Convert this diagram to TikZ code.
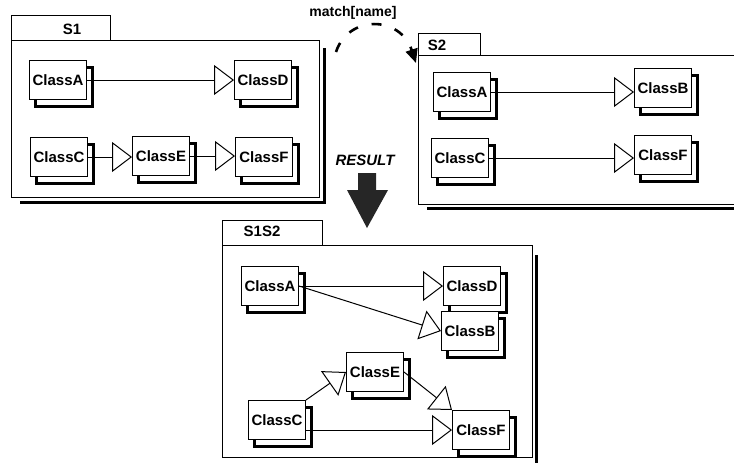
\documentclass[tikz,border=0pt]{standalone}
\usepackage{fontspec}
\setmainfont{Liberation Sans}
\usepackage{tikz}
\usetikzlibrary{calc,arrows.meta,shadows}
\usepackage{xcolor}

\tikzset{
    cls/.style={draw, fill=white, line width=0.5pt, minimum width=28.5pt, minimum height=19.5pt, inner sep=1pt,
        font=\fontsize{7.5}{8}\selectfont\bfseries,
        general shadow={shadow xshift=3pt, shadow yshift=-3.5pt, draw=black, fill=white, line width=1.2pt}},
    gen/.style={line width=0.5pt, -{Triangle[open, length=10pt, width=15pt]}},
    pkg/.style={draw, fill=white, line width=0.5pt},
    pkgshadow/.style={line width=1.5pt},
    tab/.style={font=\fontsize{7.5}{8}\selectfont\bfseries},
}

\begin{document}
\begin{tikzpicture}[x=0.5pt, y=-0.5pt]
    \clip (0,0) rectangle (734,462);

    % S1
    \draw[pkgshadow] (324,48) -- (324,202) -- (20,202);
    \draw[pkg] (11,15) rectangle (110,40);
    \draw[pkg] (11,40) rectangle (319,197);
    \node[tab] (s1) at (72,29) {S1};

    \node[cls] (a1) at (58,80) {ClassA};
    \node[cls] (d1) at (263,80) {ClassD};
    \node[cls] (c1) at (59,157) {ClassC};
    \node[cls] (e1) at (161,156) {ClassE};
    \node[cls] (f1) at (264,157) {ClassF};

    \draw[gen] (a1.east) -- (a1.east -| d1.west);
    \draw[gen] (c1.east) -- (c1.east -| e1.west);
    \draw[gen] (e1.east) -- (e1.east -| f1.west);

    % S2
    \draw[pkgshadow] (427,208) -- (760,208);
    \draw[pkg] (418,33) rectangle (480,55);
    \draw[pkg] (418,55) rectangle (760,204);
    \node[tab] (s2) at (437,45) {S2};

    \node[cls] (a2) at (462,92) {ClassA};
    \node[cls] (b2) at (663,88) {ClassB};
    \node[cls] (c2) at (460,158) {ClassC};
    \node[cls] (f2) at (663,155) {ClassF};

    \draw[gen] (a2.east) -- (a2.east -| b2.west);
    \draw[gen] (c2.east) -- (c2.east -| f2.west);

    % match
    \coordinate (m0) at (336,52);
    \coordinate (m1) at (416,63);
    \node[font=\fontsize{7}{8}\selectfont\bfseries] (match) at (353,13) {match[name]};
    \draw[line width=1.3pt, dash pattern=on 5pt off 7pt, -{Triangle[length=7pt, width=6pt]}]
        (m0) .. controls (348,15) and (400,15) .. (m1);

    % RESULT
    \node[font=\fontsize{7.5}{8}\selectfont\bfseries\itshape] (result) at (365,160) {RESULT};
    \fill[black!85] (358,173) -- (376,173) -- (376,190) -- (388,190) -- (367,228) -- (347,190) -- (358,190) -- cycle;

    % S1S2
    \draw[pkgshadow] (536,255) -- (536,470);
    \draw[pkg] (222,220) rectangle (322,245);
    \draw[pkg] (222,245) rectangle (532,457);
    \node[tab] (s12) at (262,231) {S1S2};

    \node[cls] (a3) at (270,286) {ClassA};
    \node[cls] (d3) at (472,286) {ClassD};
    \node[cls] (b3) at (470,331) {ClassB};
    \node[cls] (e3) at (375,372) {ClassE};
    \node[cls] (c3) at (277,420) {ClassC};
    \node[cls] (f3) at (481,430) {ClassF};

    \draw[gen] (a3.east) -- (a3.east -| d3.west);
    \draw[gen] (a3.east) -- (b3.west);
    \draw[gen] (c3.north east) -- (e3.west);
    \draw[gen] (e3.east) -- (f3.north west);
    \draw[gen] (c3.east |- f3.west) -- (f3.west);
\end{tikzpicture}
\end{document}
